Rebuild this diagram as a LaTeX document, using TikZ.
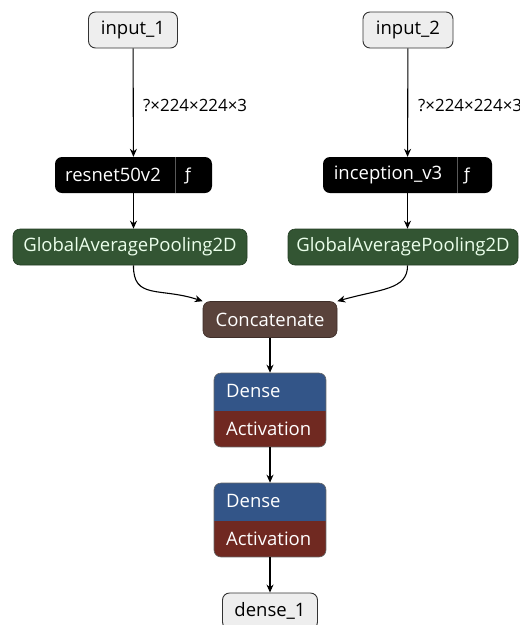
\documentclass[tikz,border=0pt]{standalone}
\usepackage{fontspec}
\setmainfont{Open Sans}
\newfontfamily\symfont{DejaVu Sans}
\usetikzlibrary{arrows.meta}
\definecolor{inputfill}{HTML}{EEEEEE}
\definecolor{poolcol}{RGB}{51,85,51}
\definecolor{tensorcol}{RGB}{89,66,59}
\definecolor{layercol}{RGB}{51,85,136}
\definecolor{actcol}{RGB}{112,41,33}
\tikzset{
  labelfont/.style={font=\fontsize{18.5}{20}\selectfont},
  box/.style={rectangle, rounded corners=7pt, minimum height=36pt, inner sep=0pt, labelfont},
  iobox/.style={box, draw=black!80, line width=0.9pt, fill=inputfill, text=black},
  fnbox/.style={box, fill=black, text=white},
  poolbox/.style={box, fill=poolcol, draw=poolcol!70!black, line width=0.6pt, text=white!92!green},
  catbox/.style={box, fill=tensorcol, draw=tensorcol!70!black, line width=0.6pt, text=white},
  stackbox/.style={rectangle, rounded corners=7pt, draw=black!60, line width=0.6pt,
    minimum width=112pt, minimum height=74pt, inner sep=0pt},
  celltext/.style={anchor=west, text=white, inner sep=0pt, labelfont},
  fntext/.style={text=white, inner sep=0pt, labelfont},
  fglyph/.style={text=white, inner sep=0pt, font=\symfont\fontsize{16.5}{18}\selectfont},
  shapetext/.style={anchor=west, inner sep=0pt, font=\fontsize{16.9}{18}\selectfont},
  link/.style={line width=1.1pt, -{Stealth[length=8pt, width=7pt]}},
}
\begin{document}
\begin{tikzpicture}[x=1pt, y=-1pt]
\useasboundingbox (0,0) rectangle (520,625);

% inputs
\node[iobox, minimum width=89pt] (in1) at (133,30) {input\_1};
\node[iobox, minimum width=90pt] (in2) at (408,30) {input\_2};

% backbone functions
\node[fnbox, minimum width=157pt] (res) at (133.5,175) {};
\node[fntext] (resname) at (113,175) {resnet50v2};
\node[fglyph] (resf) at (188,176) {ƒ};
\draw[black!65, line width=0.8pt] (res.north) ++(42,0) coordinate (ressep) -- ++(0,36);

\node[fnbox, minimum width=169pt] (inc) at (407.5,175) {};
\node[fntext] (incname) at (388,175) {inception\_v3};
\node[fglyph] (incf) at (467,176) {ƒ};
\draw[black!65, line width=0.8pt] (inc.north) ++(49.5,0) coordinate (incsep) -- ++(0,36);

% pooling
\node[poolbox, minimum width=234pt] (gap1) at (130,247) {GlobalAveragePooling2D};
\node[poolbox, minimum width=230pt] (gap2) at (403,247) {GlobalAveragePooling2D};

% concatenate
\node[catbox, minimum width=134pt] (cat) at (270,319.5) {Concatenate};

% dense + activation stacks
\foreach \n/\y in {da1/410, da2/520}{
  \begin{scope}
    \clip[rounded corners=7pt] (214,\y-37) rectangle (326,\y+37);
    \fill[layercol] (214,\y-37) rectangle (326,\y+1);
    \fill[actcol] (214,\y+1) rectangle (326,\y+37);
  \end{scope}
  \node[stackbox] (\n) at (270,\y) {};
}
\node[celltext] (dn1) at (226,391) {Dense};
\node[celltext] (ac1) at (226,429) {Activation};
\node[celltext] (dn2) at (226,501) {Dense};
\node[celltext] (ac2) at (226,539) {Activation};

% output
\node[iobox, minimum width=95pt] (out) at (270,611) {dense\_1};

% edges
\draw[link] (in1) -- (res);
\draw[link] (in2) -- (inc);
\node[shapetext] (s1) at (143,105) {?×224×224×3};
\node[shapetext] (s2) at (418,105) {?×224×224×3};
\draw[link] (res) -- (gap1.north -| res);
\draw[link] (inc) -- (gap2.north -| inc);
\draw[link] (gap1.south -| res) .. controls (133,300) and (160,287) .. (cat.north west);
\draw[link] (gap2.south -| inc) .. controls (408,290) and (380,289) .. (cat.north east);
\draw[link] (cat) -- (da1);
\draw[link] (da1) -- (da2);
\draw[link] (da2) -- (out);
\end{tikzpicture}
\end{document}
